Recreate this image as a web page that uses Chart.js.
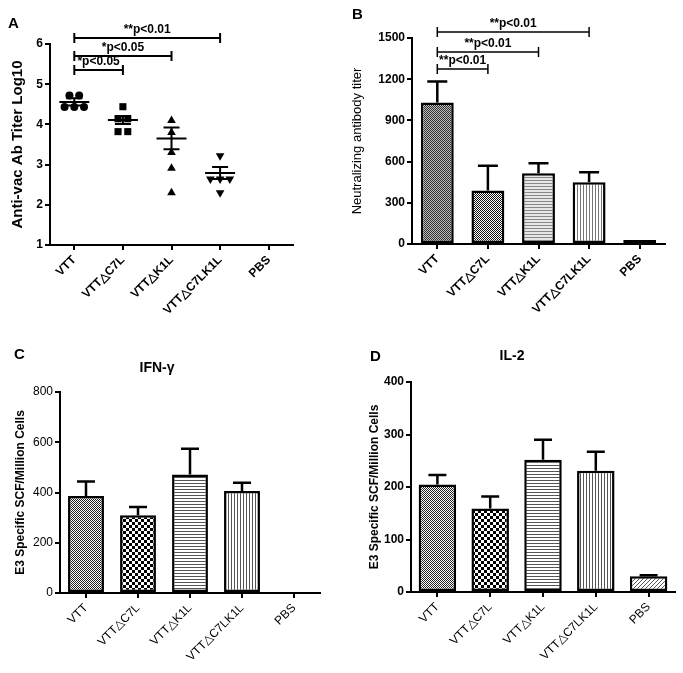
<!DOCTYPE html>
<html>
<head>
<meta charset="utf-8">
<script src="https://cdn.jsdelivr.net/npm/chart.js@4.4.0/dist/chart.umd.min.js"></script>
<style>
  body { margin: 0; background: #fff; }
  #fig { position: relative; width: 683px; height: 673px; font-family: 'Liberation Sans', Arial, sans-serif; color: #000; }
  .panel { position: absolute; }
  .lbl { position: absolute; font-weight: bold; font-size: 15px; line-height: 15px; }
  .ttl { position: absolute; font-weight: bold; font-size: 14px; line-height: 14px; transform: translateX(-50%); white-space: nowrap; }
</style>
</head>
<body>
<div id="fig">
  <div class="panel" style="left:0;top:0;width:340px;height:330px"><canvas id="chartA" width="340" height="330"></canvas></div>
  <div class="panel" style="left:340px;top:0;width:343px;height:330px"><canvas id="chartB" width="343" height="330"></canvas></div>
  <div class="panel" style="left:0;top:330px;width:340px;height:343px"><canvas id="chartC" width="340" height="343"></canvas></div>
  <div class="panel" style="left:340px;top:330px;width:343px;height:343px"><canvas id="chartD" width="343" height="343"></canvas></div>
  <div class="lbl" style="left:8px;top:15px">A</div>
  <div class="lbl" style="left:352px;top:6px">B</div>
  <div class="lbl" style="left:14px;top:346px">C</div>
  <div class="lbl" style="left:370px;top:348px">D</div>
  <div class="ttl" style="left:157px;top:360px">IFN-γ</div>
  <div class="ttl" style="left:512px;top:348px">IL-2</div>
</div>
<script>
// groups shared by all four panels
const groups = ['VTT', 'VTT△C7L', 'VTT△K1L', 'VTT△C7LK1L', 'PBS'];

// A: anti-vaccinia titers (log10), one value per mouse
const ptsVTT = [4.72, 4.72, 4.43, 4.43, 4.43];
const ptsC7L = [4.44, 4.14, 4.14, 3.82, 3.82];
const ptsK1L = [4.10, 3.80, 3.30, 2.91, 2.30];
const ptsC7LK1L = [3.22, 2.64, 2.64, 2.64, 2.30];
const meanA = [4.56, 4.11, 3.65, 2.79, null];
const semA = [0.09, 0.10, 0.27, 0.15, null];
const yTicksA = [1, 2, 3, 4, 5, 6];
const sigToA = [1, 2, 3];
const sigLevelA = [5.35, 5.70, 6.16];
const sigTextA = ['*p<0.05', '*p<0.05', '**p<0.01'];

// B: neutralizing antibody titer
const nabMean = [1030, 389, 515, 450, 29];
const nabSem = [154, 180, 73, 73, 0];
const yTicksB = [0, 300, 600, 900, 1200, 1500];
const sigToB = [1, 2, 3];
const sigLevelB = [1276, 1398, 1544];
const sigTextB = ['**p<0.01', '**p<0.01', '**p<0.01'];

// C: IFN-gamma ELISPOT
const ifnMean = [386, 309, 472, 406, 0];
const ifnSem = [58, 33, 102, 33, 0];
const yTicksC = [0, 200, 400, 600, 800];

// D: IL-2 ELISPOT
const il2Mean = [205, 159, 252, 231, 30];
const il2Sem = [18, 23, 38, 36, 2];
const yTicksD = [0, 100, 200, 300, 400];

Chart.defaults.font.family = "'Liberation Sans', Arial, sans-serif";
Chart.defaults.color = '#000';
Chart.defaults.animation = false;

// small repeating fills that mimic the hatched bars
function makePattern(kind, dark, light) {
  const c = document.createElement('canvas');
  const g = c.getContext('2d');
  const n = kind === 'coarse' ? 6 : (kind === 'fine' ? 2 : (kind === 'diag' ? 4 : 3));
  c.width = n; c.height = n;
  g.fillStyle = light || '#fff';
  g.fillRect(0, 0, n, n);
  g.fillStyle = dark || '#333';
  if (kind === 'fine') {
    g.fillRect(0, 0, 1, 1); g.fillRect(1, 1, 1, 1);
  } else if (kind === 'coarse') {
    g.fillRect(0, 0, 3, 3); g.fillRect(3, 3, 3, 3);
  } else if (kind === 'hlines') {
    g.fillRect(0, 0, n, 1);
  } else if (kind === 'vlines') {
    g.fillRect(0, 0, 1, n);
  } else if (kind === 'diag') {
    for (let i = 0; i < n; i++) g.fillRect(n - 1 - i, i, 1, 1);
  }
  return g.createPattern(c, 'repeat');
}

// markers with equal values sit side by side
function spread(vals, i) {
  const counts = {}, seen = {};
  vals.forEach(v => counts[v] = (counts[v] || 0) + 1);
  return vals.map(v => {
    const n = counts[v];
    const k = seen[v] = (seen[v] || 0) + 1;
    return { x: i + (k - 1 - (n - 1) / 2) * 0.2, y: v };
  });
}

const errorBars = {
  id: 'errorBars',
  afterDatasetsDraw(chart, args, opts) {
    const ctx = chart.ctx, y = chart.scales.y;
    const vals = chart.data.datasets[0].data;
    ctx.save();
    ctx.strokeStyle = '#000';
    ctx.lineWidth = opts.width;
    chart.getDatasetMeta(0).data.forEach((bar, i) => {
      const s = opts.sem[i];
      if (!s) return;
      const top = y.getPixelForValue(vals[i] + s);
      ctx.beginPath();
      ctx.moveTo(bar.x, bar.y);
      ctx.lineTo(bar.x, top);
      ctx.moveTo(bar.x - opts.cap, top);
      ctx.lineTo(bar.x + opts.cap, top);
      ctx.stroke();
    });
    ctx.restore();
  }
};

const sigBrackets = {
  id: 'sigBrackets',
  afterDraw(chart, args, opts) {
    if (!opts.levels) return;
    const { ctx, scales: { x, y } } = chart;
    ctx.save();
    ctx.strokeStyle = '#000';
    ctx.fillStyle = '#000';
    ctx.lineWidth = opts.width;
    ctx.font = opts.font;
    ctx.textAlign = 'center';
    ctx.textBaseline = 'bottom';
    opts.levels.forEach((lv, k) => {
      const x0 = x.getPixelForValue(0), x1 = x.getPixelForValue(opts.to[k]);
      const py = Math.round(y.getPixelForValue(lv));
      ctx.beginPath();
      ctx.moveTo(x0, py); ctx.lineTo(x1, py);
      ctx.moveTo(x0, py - 5); ctx.lineTo(x0, py + 5);
      ctx.moveTo(x1, py - 5); ctx.lineTo(x1, py + 5);
      ctx.stroke();
      ctx.fillText(opts.text[k], (x0 + x1) / 2, py - 2);
    });
    ctx.restore();
  }
};

const meanSem = {
  id: 'meanSem',
  afterDatasetsDraw(chart, args, opts) {
    const { ctx, scales: { x, y } } = chart;
    ctx.save();
    ctx.strokeStyle = '#000';
    ctx.lineWidth = 2;
    opts.mean.forEach((m, i) => {
      if (m == null) return;
      const px = x.getPixelForValue(i);
      const pm = y.getPixelForValue(m);
      const hi = y.getPixelForValue(m + opts.sem[i]);
      const lo = y.getPixelForValue(m - opts.sem[i]);
      ctx.beginPath();
      ctx.moveTo(px - 15, pm); ctx.lineTo(px + 15, pm);
      ctx.moveTo(px - 8, hi); ctx.lineTo(px + 8, hi);
      ctx.moveTo(px - 8, lo); ctx.lineTo(px + 8, lo);
      ctx.moveTo(px, hi); ctx.lineTo(px, lo);
      ctx.stroke();
    });
    ctx.restore();
  }
};

function axisGrid() {
  return { drawOnChartArea: false, drawTicks: true, tickLength: 5, color: '#000', lineWidth: 2, offset: false };
}

function yAxis(ticks, width, title, titleFont, titlePad, tickFont) {
  return {
    min: ticks[0], max: ticks[ticks.length - 1],
    afterBuildTicks: s => { s.ticks = ticks.map(v => ({ value: v })); },
    afterFit: s => { s.width = width; },
    border: { color: '#000', width: 2 },
    grid: axisGrid(),
    ticks: { font: tickFont, padding: 2, callback: v => String(v) },
    title: { display: true, text: title, font: titleFont, padding: { top: titlePad, bottom: 0 } }
  };
}

function xCategory(height, tickFont) {
  return {
    type: 'category',
    afterFit: s => { s.height = height; },
    border: { color: '#000', width: 2 },
    grid: axisGrid(),
    ticks: { font: tickFont, minRotation: 45, maxRotation: 45, autoSkip: false, padding: 3 }
  };
}

// Panel A: scatter dot plot
const markerStyles = ['circle', 'rect', 'triangle', 'triangle'];
const markerRot = [0, 0, 0, 180];
const markerRadius = [4, 5, 5, 5];
const allPts = [ptsVTT, ptsC7L, ptsK1L, ptsC7LK1L];

new Chart(document.getElementById('chartA'), {
  type: 'scatter',
  data: {
    datasets: allPts.map((p, i) => ({
      data: spread(p, i),
      pointStyle: markerStyles[i],
      rotation: markerRot[i],
      pointRadius: markerRadius[i],
      backgroundColor: '#000',
      borderColor: '#000',
      borderWidth: 0
    }))
  },
  options: {
    responsive: false,
    layout: { padding: { top: 44, right: 47, left: 0, bottom: 0 } },
    plugins: {
      legend: { display: false },
      tooltip: { enabled: false },
      meanSem: { mean: meanA, sem: semA },
      sigBrackets: { levels: sigLevelA, to: sigToA, text: sigTextA, width: 2, font: 'bold 12px "Liberation Sans", Arial, sans-serif' }
    },
    scales: {
      x: {
        type: 'linear', min: -0.5, max: 4.5,
        afterBuildTicks: s => { s.ticks = groups.map((g, i) => ({ value: i })); },
        afterFit: s => { s.height = 85; },
        border: { color: '#000', width: 2 },
        grid: axisGrid(),
        ticks: { font: { size: 12, weight: 'bold' }, minRotation: 45, maxRotation: 45, autoSkip: false, padding: 3,
                 callback: v => groups[v] }
      },
      y: yAxis(yTicksA, 50, 'Anti-vac Ab Titer Log10', { size: 15, weight: 'bold' }, 9, { size: 12, weight: 'bold' })
    }
  },
  plugins: [meanSem, sigBrackets]
});

// Panel B: neutralizing antibody bars
new Chart(document.getElementById('chartB'), {
  type: 'bar',
  data: {
    labels: groups,
    datasets: [{
      data: nabMean,
      backgroundColor: [
        makePattern('fine', '#333', '#bbb'),
        makePattern('fine', '#111', '#fff'),
        makePattern('hlines', '#888', '#e6e6e6'),
        makePattern('vlines', '#777', '#fff'),
        makePattern('fine', '#aaa', '#fff')
      ],
      borderColor: '#000',
      borderWidth: 2.5,
      borderSkipped: false,
      categoryPercentage: 1,
      barPercentage: 0.65
    }]
  },
  options: {
    responsive: false,
    layout: { padding: { top: 38, right: 18, left: 0, bottom: 0 } },
    plugins: {
      legend: { display: false },
      tooltip: { enabled: false },
      errorBars: { sem: nabSem, cap: 10, width: 2.5 },
      sigBrackets: { levels: sigLevelB, to: sigToB, text: sigTextB, width: 1.5, font: 'bold 12px "Liberation Sans", Arial, sans-serif' }
    },
    scales: {
      x: xCategory(86, { size: 12, weight: 'bold' }),
      y: yAxis(yTicksB, 72, 'Neutralizing antibody titer', { size: 13 }, 10, { size: 12, weight: 'bold' })
    }
  },
  plugins: [errorBars, sigBrackets]
});

// Panel C: IFN-gamma bars
new Chart(document.getElementById('chartC'), {
  type: 'bar',
  data: {
    labels: groups,
    datasets: [{
      data: ifnMean,
      backgroundColor: [
        makePattern('fine', '#222', '#fff'),
        makePattern('coarse', '#000', '#fff'),
        makePattern('hlines', '#555', '#fff'),
        makePattern('vlines', '#555', '#fff'),
        makePattern('diag', '#555', '#fff')
      ],
      borderColor: '#000',
      borderWidth: 2.5,
      borderSkipped: false,
      categoryPercentage: 1,
      barPercentage: 0.69
    }]
  },
  options: {
    responsive: false,
    layout: { padding: { top: 62, right: 20, left: 0, bottom: 0 } },
    plugins: {
      legend: { display: false },
      tooltip: { enabled: false },
      errorBars: { sem: ifnSem, cap: 9, width: 2.5 }
    },
    scales: {
      x: xCategory(80, { size: 12 }),
      y: yAxis(yTicksC, 60, 'E3 Specific SCF/Million Cells', { size: 12, weight: 'bold' }, 13, { size: 12 })
    }
  },
  plugins: [errorBars]
});

// Panel D: IL-2 bars
new Chart(document.getElementById('chartD'), {
  type: 'bar',
  data: {
    labels: groups,
    datasets: [{
      data: il2Mean,
      backgroundColor: [
        makePattern('fine', '#222', '#fff'),
        makePattern('coarse', '#000', '#fff'),
        makePattern('hlines', '#555', '#fff'),
        makePattern('vlines', '#555', '#fff'),
        makePattern('diag', '#555', '#fff')
      ],
      borderColor: '#000',
      borderWidth: 2.5,
      borderSkipped: false,
      categoryPercentage: 1,
      barPercentage: 0.71
    }]
  },
  options: {
    responsive: false,
    layout: { padding: { top: 52, right: 8, left: 0, bottom: 0 } },
    plugins: {
      legend: { display: false },
      tooltip: { enabled: false },
      errorBars: { sem: il2Sem, cap: 9, width: 2.5 }
    },
    scales: {
      x: xCategory(81, { size: 12 }),
      y: yAxis(yTicksD, 71, 'E3 Specific SCF/Million Cells', { size: 12, weight: 'bold' }, 27, { size: 12, weight: 'bold' })
    }
  },
  plugins: [errorBars]
});
</script>
</body>
</html>
